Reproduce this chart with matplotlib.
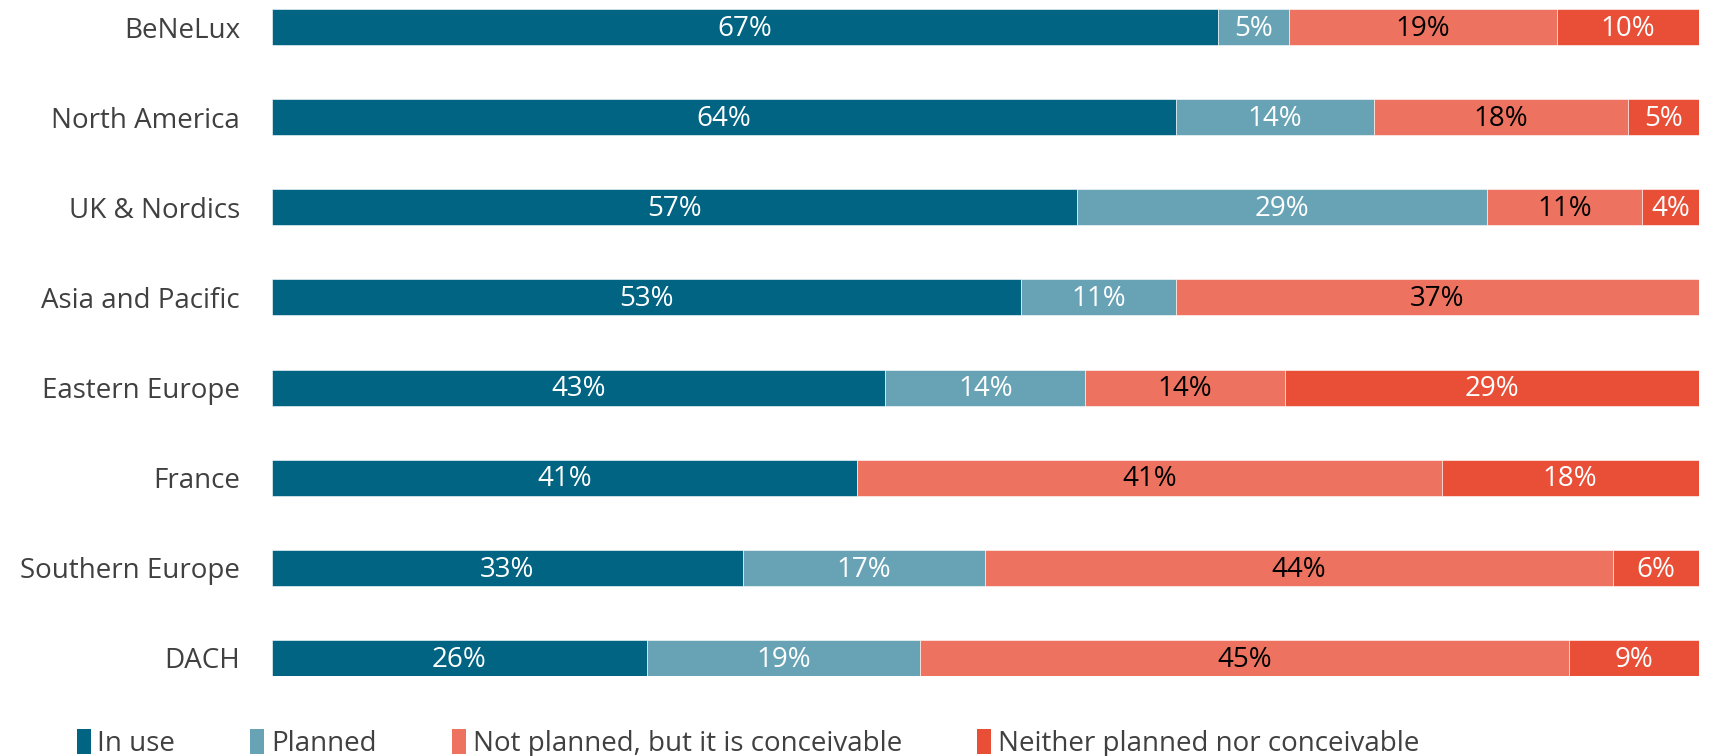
import numpy as np
import matplotlib.pyplot as plt
from matplotlib.patches import Patch

plt.rcParams['font.family'] = ['Open Sans', 'DejaVu Sans']

regions = ["BeNeLux", "North America", "UK & Nordics", "Asia and Pacific",
           "Eastern Europe", "France", "Southern Europe", "DACH"]
in_use = [67, 64, 57, 53, 43, 41, 33, 26]
planned = [5, 14, 29, 11, 14, 0, 17, 19]
not_planned = [19, 18, 11, 37, 14, 41, 44, 45]
neither = [10, 5, 4, 0, 29, 18, 6, 9]

series = ["In use", "Planned", "Not planned, but it is conceivable",
          "Neither planned nor conceivable"]
colors = ["#006482", "#67a3b5", "#ed7360", "#e84f36"]
text_colors = ["white", "white", "black", "white"]

data = np.array([in_use, planned, not_planned, neither], dtype=float)
totals = data.sum(axis=0)
shares = data / totals

fig = plt.figure(figsize=(17.21, 7.56), dpi=100)
ax = fig.add_axes([0.158, 0.106, 0.829, 0.882])

y = np.arange(len(regions))
left = np.zeros(len(regions))
for k in range(4):
    ax.barh(y, shares[k], left=left, height=0.4, color=colors[k],
            edgecolor="white", linewidth=0.4)
    for i in range(len(regions)):
        if data[k, i] > 0:
            ax.text(left[i] + shares[k, i] / 2, y[i] + 0.02, f"{int(data[k, i])}%",
                    ha="center", va="center", fontsize=20, color=text_colors[k])
    left += shares[k]

ax.set_xlim(0, 1)
ax.set_ylim(7.2, -0.2)
ax.set_yticks(y)
ax.set_yticklabels(regions, fontsize=20, color="#404040")
ax.set_xticks([])
ax.tick_params(axis="y", length=0, pad=23)
for s in ax.spines.values():
    s.set_visible(False)

handles = [Patch(facecolor=c, edgecolor="none") for c in colors]
fig.legend(handles, series, loc="lower left", bbox_to_anchor=(0.030, -0.036),
           ncol=4, frameon=False, fontsize=20, labelcolor="#404040",
           handlelength=0.5, handleheight=1.0, handletextpad=0.25,
           columnspacing=2.7)

fig.savefig("out.png", dpi=100)
